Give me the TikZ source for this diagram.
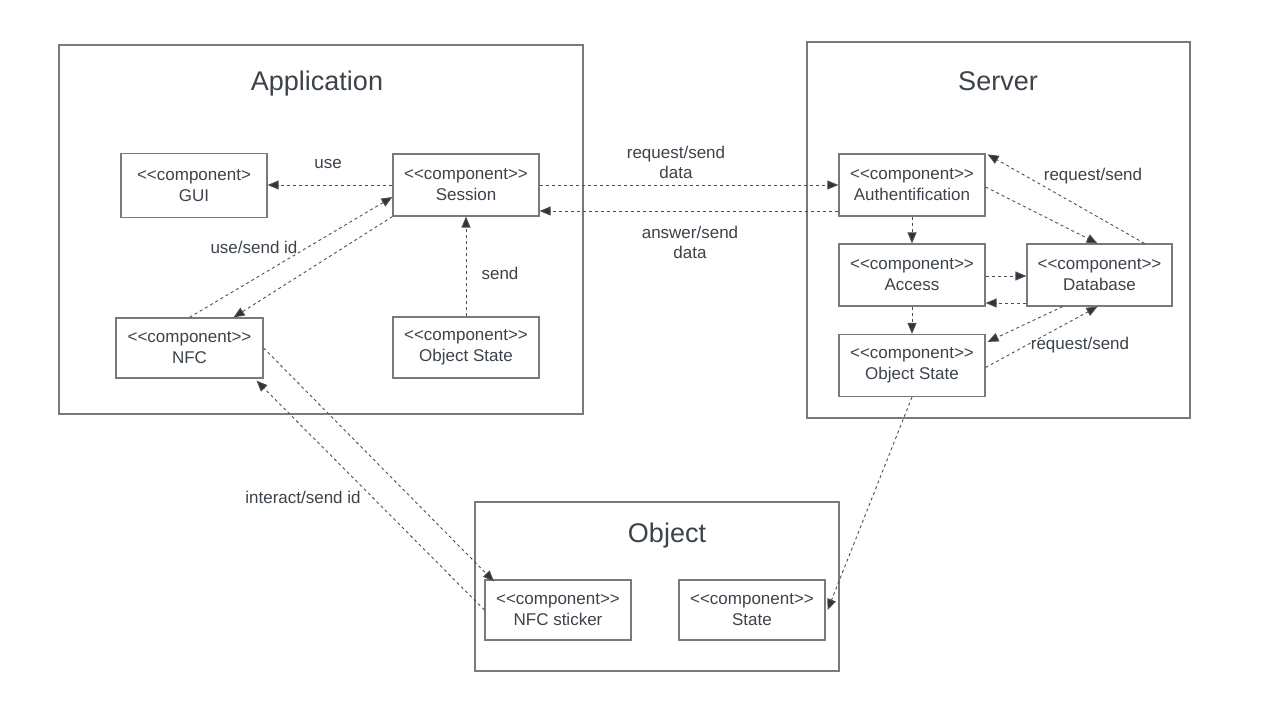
\documentclass[tikz,border=0pt]{standalone}
\usepackage{fontspec}
\setmainfont{Liberation Sans}[Ligatures=TeXOff]
\usetikzlibrary{arrows.meta}
\definecolor{txt}{HTML}{3D434B}
\definecolor{frame}{HTML}{7A7A7A}
\definecolor{wire}{HTML}{4A4F57}
\definecolor{tip}{HTML}{2F353D}
\tikzset{
  container/.style={draw=frame, line width=1.2pt},
  title/.style={text=txt, font=\fontsize{27}{30}\selectfont},
  comp/.style={draw=frame, line width=1.2pt, fill=white, text=txt,
    minimum width=146pt, minimum height=62pt, inner sep=0pt, align=center,
    font=\fontsize{17}{21}\selectfont},
  lbl/.style={text=txt, align=center, font=\fontsize{17}{20}\selectfont, inner sep=1pt},
  conn/.style={draw=wire, line width=0.9pt, dash pattern=on 3pt off 3pt,
    -{Triangle[length=11pt,width=9pt,fill=tip]}},
}
\begin{document}
\begin{tikzpicture}[x=1pt,y=-1pt]
\path[use as bounding box, fill=white] (0,0) rectangle (1280,724);

% containers
\draw[container] (59,45) rectangle (583,414);
\draw[container] (807,42) rectangle (1190,418);
\draw[container] (475,502) rectangle (839,671);
\node[title] (tApp) at (317,84) {Application};
\node[title] (tSrv) at (998,81) {Server};
\node[title] (tObj) at (667,536) {Object};

% application components
\node[comp, minimum height=64pt] (gui) at (194,185.5) {<<component>\\GUI};
\node[comp] (sess) at (466,185) {<<component>>\\Session};
\node[comp, minimum width=147pt, minimum height=60pt] (nfc) at (189.5,348) {<<component>>\\NFC};
\node[comp, minimum height=61pt] (objs) at (466,347.5) {<<component>>\\Object State};

% server components
\node[comp] (auth) at (912,185) {<<component>>\\Authentification};
\node[comp] (acc) at (912,275) {<<component>>\\Access};
\node[comp, minimum width=145pt] (db) at (1099.5,275) {<<component>>\\Database};
\node[comp] (objsrv) at (912,365.5) {<<component>>\\Object State};

% object components
\node[comp, minimum height=60pt] (stick) at (558,610) {<<component>>\\NFC sticker};
\node[comp, minimum height=60pt] (state) at (752,610) {<<component>>\\State};

% connectors inside the application
\draw[conn] (sess.west) -- (gui.east |- sess.west);
\draw[conn] (nfc.north) -- ([yshift=-12pt]sess.west);
\draw[conn] (sess.south west) -- ([xshift=44pt]nfc.north);
\draw[conn] (objs.north) -- (sess.south);

% application <-> server
\draw[conn] (sess.east) -- (auth.west);
\draw[conn] ([yshift=-26pt]auth.west) -- ([yshift=-26pt]sess.east);

% connectors inside the server
\draw[conn] (auth.south) -- (acc.north);
\draw[conn] (acc.south) -- (objsrv.north);
\draw[conn] ([yshift=-1pt]acc.east) -- ([yshift=-1pt]db.west);
\draw[conn] ([yshift=-28pt]db.west) -- ([yshift=-28pt]acc.east);
\draw[conn] ([yshift=-2pt]auth.east) -- ([xshift=-2pt]db.north);
\draw[conn] ([xshift=45pt]db.north) -- ([xshift=2pt,yshift=-1pt]auth.north east);
\draw[conn] ([xshift=-37pt]db.south) -- ([xshift=2pt,yshift=-8pt]objsrv.north east);
\draw[conn] ([yshift=-2pt]objsrv.east) -- ([xshift=-2pt]db.south);

% server -> object, application <-> object
\draw[conn] (objsrv.south) -- ([xshift=2pt]state.east);
\draw[conn] (nfc.east) -- ([xshift=-64pt,yshift=-2pt]stick.north);
\draw[conn] (stick.west) -- ([xshift=67pt,yshift=-2pt]nfc.south);

% connector labels
\node[lbl] (lUse) at (328,164) {use};
\node[lbl] (lUseId) at (254,247) {use/send id};
\node[lbl] (lSend) at (500,273) {send};
\node[lbl] (lReq) at (676,162) {request/send\\data};
\node[lbl] (lAns) at (690,242) {answer/send\\data};
\node[lbl] (lReqA) at (1093,176) {request/send};
\node[lbl] (lReqB) at (1080,345) {request/send};
\node[lbl] (lInt) at (303,497) {interact/send id};
\end{tikzpicture}
\end{document}
